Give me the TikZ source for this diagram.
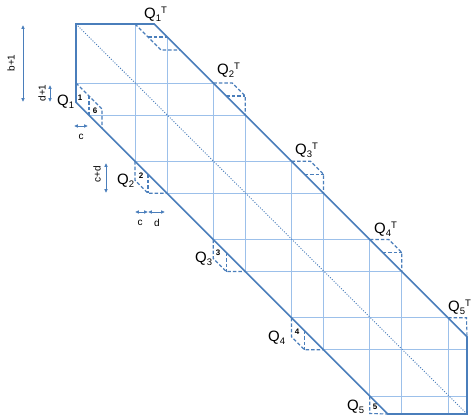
\documentclass[tikz,border=0pt]{standalone}
\usepackage{fontspec}
\setmainfont{Liberation Sans}
\usetikzlibrary{arrows.meta}
\definecolor{bandblue}{HTML}{4A7EBB}
\definecolor{gridblue}{HTML}{9CC0EA}
\newcommand\qsb[1]{\raisebox{-3pt}{\fontsize{9.5}{9.5}\selectfont #1}}
\newcommand\qsp[1]{\raisebox{5pt}{\fontsize{9.5}{9.5}\selectfont #1}}
\begin{document}
\begin{tikzpicture}[x=1pt,y=-1pt,
  edge/.style={draw=bandblue,line width=1.6pt,line join=miter},
  gridline/.style={draw=gridblue,line width=0.8pt},
  qbox/.style={draw=bandblue,line width=1.1pt,dash pattern=on 3.5pt off 2pt},
  diagline/.style={draw=bandblue,line width=0.9pt,dash pattern=on 1pt off 1.6pt},
  dimline/.style={draw=bandblue,line width=0.8pt,{Latex[length=3.8pt,width=3.8pt]}-{Latex[length=3.8pt,width=3.8pt]}},
  qlab/.style={inner sep=0pt,anchor=base west,font=\fontsize{15}{15}\selectfont},
  numlab/.style={inner sep=0pt,font=\fontsize{8}{8}\selectfont\bfseries},
  dimlab/.style={inner sep=0pt,font=\fontsize{10}{10}\selectfont}]
\useasboundingbox (0,0) rectangle (474,417);
% band corners
\coordinate (TL) at (76,24);
\coordinate (TR) at (154.25,24);
\coordinate (RT) at (467,336.75);
\coordinate (RB) at (467,414);
\coordinate (BL) at (387.75,414);
\coordinate (LB) at (76,102.25);
% grid
\begin{scope}
  \clip (TL) -- (TR) -- (RT) -- (RB) -- (BL) -- (LB) -- cycle;
  \foreach \k in {0,...,4}{
    \pgfmathsetmacro\a{59+78.25*\k}
    \draw[gridline] ({76+\a},0) -- ({76+\a},417);
    \draw[gridline] ({108+\a},0) -- ({108+\a},417);
    \draw[gridline] (0,{24+\a}) -- (474,{24+\a});
    \draw[gridline] (0,{56+\a}) -- (474,{56+\a});
  }
\end{scope}
% main diagonal
\draw[diagline] (TL) -- (RB);
% Q1 (lower, special)
\draw[qbox] (76,83) -- (102,109) -- (102,128.25);
\draw[qbox] (89,96) -- (89,115.25);
% Q1^T (upper, special)
\draw[qbox] (135,24) -- (161,50) -- (180.25,50);
\draw[qbox] (148,37) -- (167.25,37);
% Q2..Q4 lower and upper
\foreach \k in {0,1,2}{
  \pgfmathsetmacro\a{59+78.25*\k}
  \pgfmathsetmacro\lx{76+\a}
  \pgfmathsetmacro\ly{102.25+\a}
  \draw[qbox] (\lx,\ly) -- (\lx,\ly+19) -- (\lx+13,\ly+32) -- (\lx+32,\ly+32);
  \draw[qbox] (\lx+13,\ly+13) -- (\lx+13,\ly+32);
  \pgfmathsetmacro\ux{154.25+\a}
  \pgfmathsetmacro\uy{24+\a}
  \draw[qbox] (\ux,\uy) -- (\ux+19,\uy) -- (\ux+32,\uy+13) -- (\ux+32,\uy+32);
  \draw[qbox] (\ux+13,\uy+13) -- (\ux+32,\uy+13);
}
% Q5 lower and upper (clipped by the band)
\draw[qbox] (369.75,396) -- (369.75,413.5) -- (BL);
\draw[qbox] (448,317.75) -- (466.5,317.75) -- (RT);
% band outline
\draw[edge] (TL) -- (TR) -- (RT) -- (RB) -- (BL) -- (LB) -- cycle;
% Q labels
\node[qlab] (q1)  at (57,106)  {Q\qsb{1}};
\node[qlab] (q2)  at (117,184) {Q\qsb{2}};
\node[qlab] (q3)  at (195,262) {Q\qsb{3}};
\node[qlab] (q4)  at (268,341) {Q\qsb{4}};
\node[qlab] (q5)  at (347,410) {Q\qsb{5}};
\node[qlab] (q1t) at (144,19)  {Q\qsb{1}\qsp{T}};
\node[qlab] (q2t) at (217,75)  {Q\qsb{2}\qsp{T}};
\node[qlab] (q3t) at (295,154) {Q\qsb{3}\qsp{T}};
\node[qlab] (q4t) at (374,233) {Q\qsb{4}\qsp{T}};
\node[qlab] (q5t) at (448,311) {Q\qsb{5}\qsp{T}};
% numbers in boxes
\node[numlab] (n1) at (80,98)   {1};
\node[numlab] (n6) at (95,111)  {6};
\node[numlab] (n2) at (141,176) {2};
\node[numlab] (n3) at (218,253) {3};
\node[numlab] (n4) at (297,332) {4};
\node[numlab] (n5) at (375,407) {5};
% dimension arrows
\coordinate (b1a) at (23,25);   \coordinate (b1b) at (23,102);
\coordinate (d1a) at (50,85);   \coordinate (d1b) at (50,102);
\coordinate (c1a) at (74,126);  \coordinate (c1b) at (88,126);
\coordinate (cda) at (106,163); \coordinate (cdb) at (106,193);
\coordinate (c2a) at (135,212); \coordinate (c2b) at (148,212);
\coordinate (d2b) at (165,212);
\draw[dimline] (b1a) -- (b1b);
\draw[dimline] (d1a) -- (d1b);
\draw[dimline] (c1a) -- (c1b);
\draw[dimline] (cda) -- (cdb);
\draw[dimline] (c2a) -- (c2b);
\draw[dimline] (c2b) -- (d2b);
\node[dimlab,rotate=90] (lb1) at (11,63)  {b+1};
\node[dimlab,rotate=90] (ld1) at (42,93)  {d+1};
\node[dimlab] (lc1) at (81,137) {c};
\node[dimlab,rotate=90] (lcd) at (97,174) {c+d};
\node[dimlab] (lc2) at (140,223) {c};
\node[dimlab] (ld2) at (157,223) {d};
\end{tikzpicture}
\end{document}
